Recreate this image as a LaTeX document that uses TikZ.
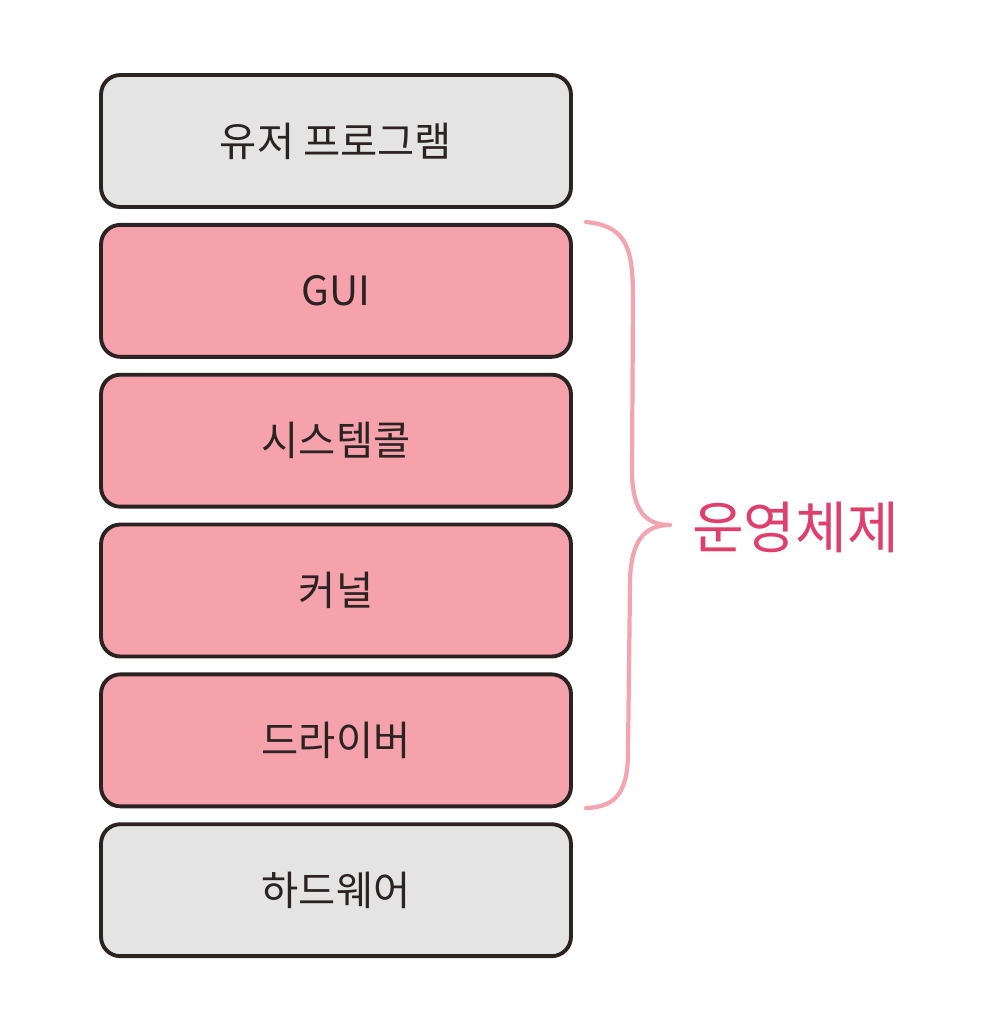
\documentclass[tikz,border=0pt]{standalone}
\usepackage{fontspec}
\newfontfamily\kr{Noto Sans CJK KR}
\usetikzlibrary{positioning}
\definecolor{boxgray}{HTML}{E4E4E4}
\definecolor{boxpink}{HTML}{F5A2AD}
\definecolor{bracepink}{HTML}{F4A3B0}
\definecolor{labelpink}{HTML}{E03E6C}
\definecolor{ink}{HTML}{2B2222}

\begin{document}
\begin{tikzpicture}[x=0.02cm,y=-0.02cm,
   layer/.style={draw=ink,line width=2.2pt,rounded corners=11pt,
      minimum width=9.4cm,minimum height=2.64cm,
      font=\kr\fontsize{23}{27}\selectfont,text=ink},
   graylayer/.style={layer,fill=boxgray},
   pinklayer/.style={layer,fill=boxpink},
   node distance=0.28cm]
\useasboundingbox (0,0) rectangle (1000,1014);
\node[graylayer] (user) at (336,141) {유저 프로그램};
\node[pinklayer,below=of user] (gui) {GUI};
\node[pinklayer,below=of gui] (syscall) {시스템콜};
\node[pinklayer,below=of syscall] (kernel) {커널};
\node[pinklayer,below=of kernel] (driver) {드라이버};
\node[graylayer,below=of driver] (hw) {하드웨어};
% brace for the OS layers
\coordinate (btop) at (586,222);
\coordinate (btip) at (670,525);
\coordinate (bbot) at (586,808);
\draw[bracepink,line width=2.4pt,line cap=round]
   (btop) .. controls (628,226) and (633,250) .. (633,300)
   -- (632,470) .. controls (632,510) and (645,525) .. (btip)
   (btip) .. controls (645,525) and (630,540) .. (630,585)
   -- (628,752) .. controls (628,797) and (612,807) .. (bbot);
\node[text=labelpink,font=\kr\fontsize{32}{36}\selectfont,anchor=west] (os) at (686,527) {운영체제};
\end{tikzpicture}
\end{document}
